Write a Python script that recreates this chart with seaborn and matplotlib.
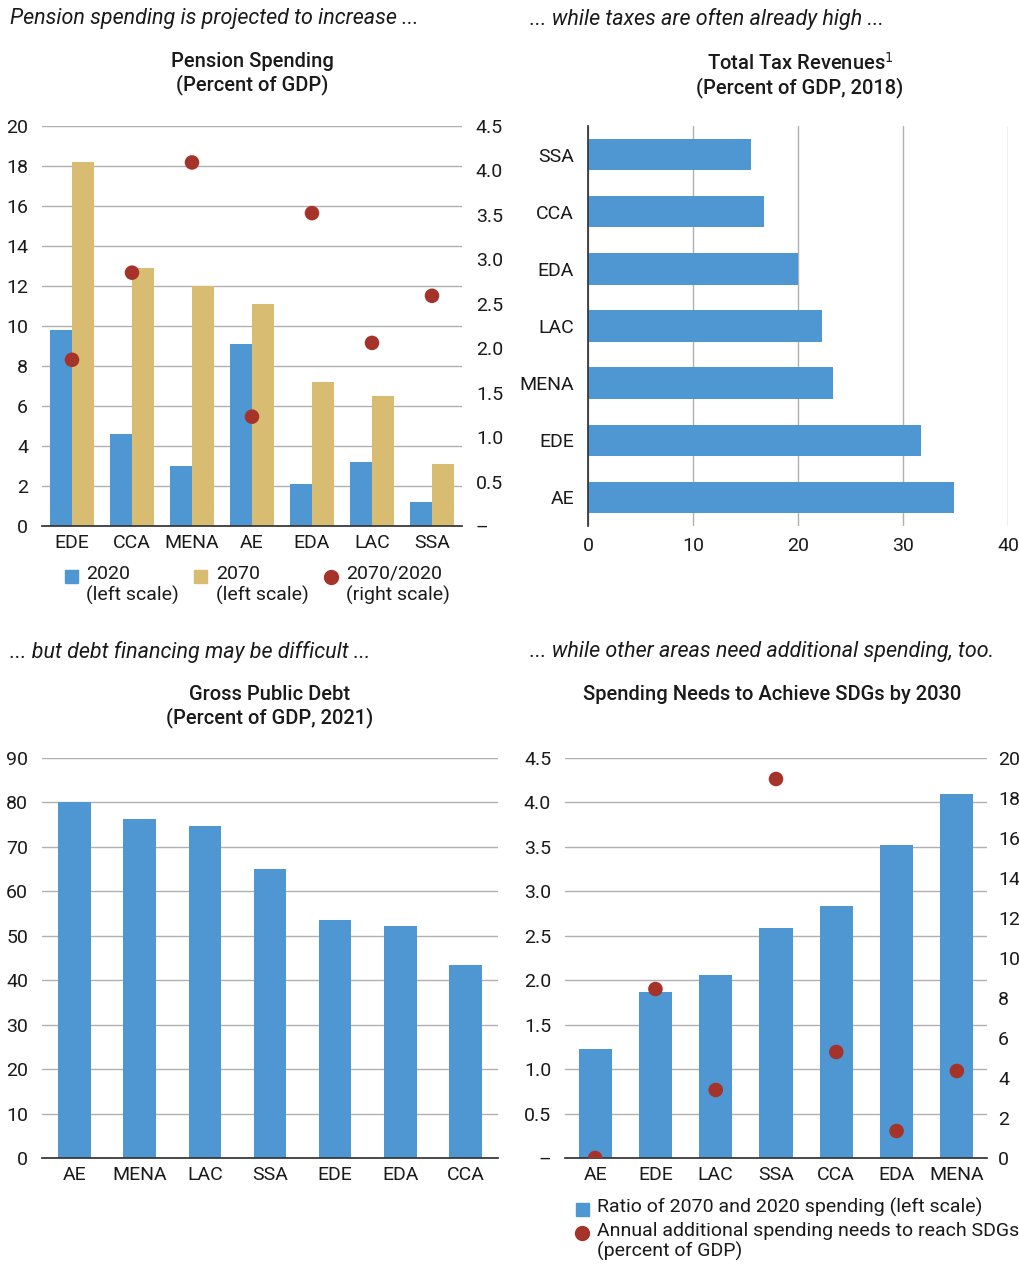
import matplotlib
matplotlib.use("Agg")
import matplotlib.pyplot as plt
import seaborn as sns
import pandas as pd
import numpy as np

sns.set_theme(style="white")
plt.rcParams['font.family'] = ['Roboto', 'DejaVu Sans']
plt.rcParams['font.stretch'] = 'condensed'

BLUE = "#4f97d2"; TAN = "#d8bc72"; RED = "#a5332a"; GRID = "#b0b0b0"

p_cats = ["EDE", "CCA", "MENA", "AE", "EDA", "LAC", "SSA"]
p2020 = [9.8, 4.6, 3.0, 9.1, 2.1, 3.2, 1.2]
p2070 = [18.2, 12.9, 12.0, 11.1, 7.2, 6.5, 3.1]
pratio = [1.87, 2.85, 4.09, 1.23, 3.52, 2.06, 2.59]

t_cats = ["SSA", "CCA", "EDA", "LAC", "MENA", "EDE", "AE"]
t_vals = [15.5, 16.8, 20.0, 22.3, 23.3, 31.7, 34.9]

d_cats = ["AE", "MENA", "LAC", "SSA", "EDE", "EDA", "CCA"]
d_vals = [80.0, 76.2, 74.6, 65.0, 53.5, 52.2, 43.4]

s_cats = ["AE", "EDE", "LAC", "SSA", "CCA", "EDA", "MENA"]
s_ratio = [1.23, 1.87, 2.06, 2.59, 2.84, 3.52, 4.09]
s_needs = [0.0, 8.45, 3.4, 18.95, 5.3, 1.35, 4.35]

fig = plt.figure(figsize=(10.2, 12.68), dpi=100)
FS = 14
TC = "#1a1a1a"
BAR = dict(saturation=1, linewidth=0)

def style(ax, hgrid=True):
    for s in ["top", "right", "left"]:
        ax.spines[s].set_visible(False)
    ax.spines["bottom"].set_color("#333333")
    ax.tick_params(axis="both", labelsize=FS, length=0, colors=TC)
    if hgrid:
        ax.yaxis.grid(True, color=GRID, lw=1)
    ax.set_axisbelow(True)
    ax.set_xlabel(""); ax.set_ylabel("")

def leg_marker(x, y, kind, color):
    if kind == "sq":
        fig.patches.append(plt.Rectangle((x/1020, 1-(y+6)/1268), 13/1020, 13/1268, color=color, transform=fig.transFigure))
    else:
        fig.lines.append(plt.Line2D([(x+6)/1020], [1-y/1268], marker="o", color=color, ms=10, ls="", transform=fig.transFigure))

IT = dict(fontsize=15.5, style="italic", va="top", color=TC)
TT = dict(fontsize=14.5, va="top", ha="center", color=TC, fontweight="medium")

# Panel 1
ax1 = fig.add_axes([42/1020, 1-526/1268, 420/1020, 400/1268])
df1 = pd.DataFrame({"cat": p_cats*2, "val": p2020+p2070, "yr": ["2020"]*7+["2070"]*7})
sns.barplot(data=df1, x="cat", y="val", hue="yr", palette=[BLUE, TAN], width=0.72, ax=ax1, legend=False, **BAR)
ax1.set_ylim(0, 20); ax1.set_yticks(range(0, 21, 2))
ax1.set_xlim(-0.5, 6.5)
style(ax1)
ax1b = ax1.twinx()
sns.scatterplot(x=np.arange(7), y=pratio, color=RED, s=110, ax=ax1b, zorder=5, edgecolor="none")
ax1b.set_ylim(0, 4.5); ax1b.set_yticks(np.arange(0, 4.51, 0.5))
ax1b.set_yticklabels(["–"] + [f"{v:.1f}" for v in np.arange(0.5, 4.51, 0.5)])
for s in ax1b.spines.values(): s.set_visible(False)
ax1b.tick_params(labelsize=FS, length=0, colors=TC, pad=10)
ax1.yaxis.set_tick_params(pad=10)
ax1b.set_ylabel("")
fig.text(0.01, 1-8/1268, "Pension spending is projected to increase ...", **IT)
fig.text(252/1020, 1-52/1268, "Pension Spending\n(Percent of GDP)", **TT)
leg_marker(65, 577, "sq", BLUE); fig.text(86/1020, 1-565/1268, "2020\n(left scale)", fontsize=FS, va="top", color=TC)
leg_marker(194, 577, "sq", TAN); fig.text(216/1020, 1-565/1268, "2070\n(left scale)", fontsize=FS, va="top", color=TC)
leg_marker(325, 577, "o", RED); fig.text(346/1020, 1-565/1268, "2070/2020\n(right scale)", fontsize=FS, va="top", color=TC)

# Panel 2
ax2 = fig.add_axes([588/1020, 1-526/1268, 420/1020, 400/1268])
sns.barplot(x=t_vals, y=t_cats, color=BLUE, orient="h", width=0.55, ax=ax2, **BAR)
ax2.set_xlim(0, 40); ax2.set_xticks(range(0, 41, 10))
for s in ["top", "right"]:
    ax2.spines[s].set_visible(False)
ax2.spines["left"].set_color("#333333"); ax2.spines["bottom"].set_visible(False)
ax2.xaxis.grid(True, color=GRID, lw=1)
ax2.set_axisbelow(True)
ax2.tick_params(labelsize=FS, length=0, colors=TC)
ax2.tick_params(axis="y", pad=10); ax2.tick_params(axis="x", pad=8)
ax2.set_xlabel(""); ax2.set_ylabel("")
fig.text(530/1020, 1-8/1268, "... while taxes are often already high ...", **IT)
fig.text(800/1020, 1-52/1268, "Total Tax Revenues$^1$\n(Percent of GDP, 2018)", **TT)

# Panel 3
ax3 = fig.add_axes([42/1020, 1-1158/1268, 456/1020, 400/1268])
sns.barplot(x=d_cats, y=d_vals, color=BLUE, width=0.5, ax=ax3, **BAR)
ax3.set_ylim(0, 90); ax3.set_yticks(range(0, 91, 10))
style(ax3)
ax3.yaxis.set_tick_params(pad=10)
fig.text(0.01, 1-641/1268, "... but debt financing may be difficult ...", **IT)
fig.text(270/1020, 1-685/1268, "Gross Public Debt\n(Percent of GDP, 2021)", **TT)

# Panel 4
ax4 = fig.add_axes([565/1020, 1-1158/1268, 422/1020, 400/1268])
sns.barplot(x=s_cats, y=s_ratio, color=BLUE, width=0.55, ax=ax4, **BAR)
ax4.set_ylim(0, 4.5); ax4.set_yticks(np.arange(0, 4.51, 0.5))
ax4.set_yticklabels(["–"] + [f"{v:.1f}" for v in np.arange(0.5, 4.51, 0.5)])
ax4.set_xlim(-0.5, 6.5)
style(ax4)
ax4.yaxis.set_tick_params(pad=10)
ax4b = ax4.twinx()
sns.scatterplot(x=np.arange(7), y=s_needs, color=RED, s=110, ax=ax4b, zorder=5, edgecolor="none")
ax4b.set_ylim(0, 20); ax4b.set_yticks(range(0, 21, 2))
for s in ax4b.spines.values(): s.set_visible(False)
ax4b.tick_params(labelsize=FS, length=0, colors=TC, pad=8)
ax4b.set_ylabel("")
fig.text(530/1020, 1-641/1268, "... while other areas need additional spending, too.", **IT)
fig.text(772/1020, 1-685/1268, "Spending Needs to Achieve SDGs by 2030", **TT)
leg_marker(576, 1210, "sq", BLUE); fig.text(597/1020, 1-1198/1268, "Ratio of 2070 and 2020 spending (left scale)", fontsize=FS, va="top", color=TC)
leg_marker(576, 1233, "o", RED); fig.text(597/1020, 1-1222/1268, "Annual additional spending needs to reach SDGs\n(percent of GDP)", fontsize=FS, va="top", color=TC, linespacing=1.1)

for a in [ax1, ax3, ax4]:
    a.tick_params(axis="x", pad=6)

fig.savefig("out.png", dpi=100)
